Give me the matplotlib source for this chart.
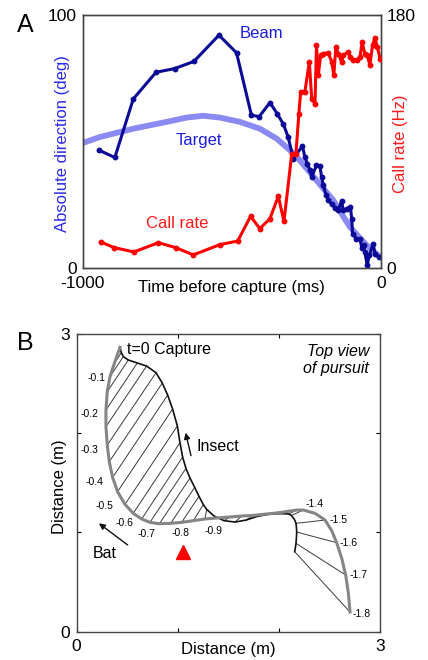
import numpy as np
import matplotlib
matplotlib.use("Agg")
import matplotlib.pyplot as plt

plt.rcParams['font.family'] = ['Liberation Sans', 'DejaVu Sans']
plt.rcParams['axes.unicode_minus'] = False

# ---- panel A data ----
beam_t = [-945, -892, -830, -754, -691, -627, -543, -484, -434, -408, -372, -348,
          -327, -311, -294, -263, -255, -247, -238, -232, -216, -204, -199, -193,
          -184, -177, -165, -154, -143, -132, -126, -115, -102, -98, -95, -82, -70,
          -64, -58, -54, -46, -39, -26, -20, -6]
beam_deg = [46.6, 43.7, 66.9, 77.4, 78.9, 81.7, 92.1, 85.1, 60.4, 59.9, 65.4, 61.1,
            56.9, 51.8, 43.3, 48.2, 43.9, 41.3, 38.9, 36.0, 40.6, 40.2, 36.0, 32.7,
            28.8, 26.8, 25.2, 23.9, 22.8, 26.5, 22.8, 23.5, 24.1, 19.5, 13.6, 11.6, 11.6,
            7.7, 9.0, 6.3, 1.1, 5.0, 9.6, 5.7, 4.4]

target_t = [-998, -942, -830, -718, -651, -596, -540, -473, -406, -350, -305, -272,
            -216, -160, -104, -48, -3]
target_deg = [49.5, 51.8, 55.1, 57.8, 59.5, 60.2, 59.5, 57.8, 55.1, 51.2, 46.6, 42.6,
              34.7, 26.8, 16.2, 9.0, 4.4]

call_t = [-939, -894, -828, -746, -688, -629, -540, -480, -437, -406, -372, -344,
          -325, -299, -285, -275, -269, -255, -240, -232, -221, -216, -210, -202,
          -193, -177, -165, -158, -151, -143, -132, -126, -109, -104, -93, -79, -70,
          -63, -54, -46, -37, -28, -20, -12, -3]
call_hz = [18.5, 14.5, 11.4, 18.0, 14.5, 9.3, 16.6, 19.2, 36.8, 28.0, 35.1, 51.1,
           33.2, 81.0, 81.0, 109.9, 125.4, 125.4, 146.8, 120.6, 117.1, 158.6, 137.3, 151.5,
           152.7, 153.2, 146.8, 137.3, 157.4, 152.7, 146.8, 151.5, 153.9, 150.3, 148.4, 148.4, 150.3,
           161.0, 152.7, 151.5, 144.4, 158.6, 164.1, 157.4, 149.1]

# ---- panel B data (every 0.05 s, from capture back to -1.8 s) ----
times = [0, -0.05, -0.1, -0.15, -0.2, -0.25, -0.3, -0.35, -0.4, -0.45, -0.5, -0.55,
         -0.6, -0.65, -0.7, -0.75, -0.8, -0.85, -0.9, -0.95, -1.0, -1.05, -1.1, -1.15,
         -1.2, -1.25, -1.3, -1.35, -1.4, -1.45, -1.5, -1.55, -1.6, -1.65, -1.7, -1.75, -1.8]
bat_x = [0.429, 0.373, 0.330, 0.303, 0.290, 0.290, 0.303, 0.323, 0.356, 0.405, 0.478, 0.560,
         0.643, 0.725, 0.818, 0.930, 1.038, 1.154, 1.269, 1.385, 1.516, 1.632, 1.747, 1.846,
         1.945, 2.027, 2.110, 2.176, 2.242, 2.357, 2.456, 2.522, 2.571, 2.621, 2.660, 2.687, 2.703]
bat_y = [2.866, 2.704, 2.570, 2.419, 2.234, 2.066, 1.881, 1.713, 1.555, 1.411, 1.283, 1.193,
         1.136, 1.102, 1.088, 1.092, 1.102, 1.119, 1.136, 1.146, 1.156, 1.166, 1.172, 1.183,
         1.193, 1.203, 1.216, 1.226, 1.226, 1.193, 1.125, 1.018, 0.897, 0.739, 0.571, 0.386, 0.198]
insect_x = [0.429, 0.442, 0.462, 0.511, 0.600, 0.692, 0.785, 0.847, 0.900, 0.949, 0.996, 1.022,
            1.048, 1.081, 1.121, 1.167, 1.210, 1.253, 1.286, 1.358, 1.457, 1.566, 1.675, 1.787,
            1.896, 1.985, 2.060, 2.097, 2.123, 2.153, 2.169, 2.173, 2.176, 2.173, 2.169, 2.163, 2.156]
insect_y = [2.866, 2.812, 2.772, 2.738, 2.708, 2.677, 2.610, 2.506, 2.385, 2.244, 2.073, 1.905,
            1.760, 1.646, 1.549, 1.455, 1.364, 1.280, 1.233, 1.166, 1.119, 1.105, 1.125, 1.162,
            1.183, 1.189, 1.189, 1.186, 1.172, 1.132, 1.092, 1.052, 1.004, 0.947, 0.890, 0.850, 0.806]
no_link = [0, -1.45, -1.55, -1.65, -1.75]

lab_txt = ['-0.1', '-0.2', '-0.3', '-0.4', '-0.5', '-0.6', '-0.7', '-0.8', '-0.9',
           '-1.4', '-1.5', '-1.6', '-1.7', '-1.8']
lab_x = [0.198, 0.132, 0.132, 0.181, 0.280, 0.478, 0.692, 1.032, 1.352,
         2.357, 2.588, 2.687, 2.786, 2.819]
lab_y = [2.553, 2.194, 1.831, 1.512, 1.267, 1.092, 0.984, 0.998, 1.018,
         1.287, 1.125, 0.890, 0.571, 0.178]

fig = plt.figure(figsize=(4.28, 6.60), dpi=100)

# ================= panel A =================
ax = fig.add_axes([0.193, 0.594, 0.697, 0.383])
ax.plot(target_t, target_deg, color='#8a8af2', lw=4.2, solid_capstyle='round', zorder=2)
ax.plot(beam_t, beam_deg, color='#0a0a96', lw=2.2, marker='o', ms=3.2, zorder=3)
ax.set_xlim(-1000, 0)
ax.set_ylim(0, 100)
ax.set_xticks([-1000, 0])
ax.set_yticks([0, 100])
ax.tick_params(length=0, labelsize=12.5, pad=4)
ax.tick_params(axis='x', pad=5.5)
ax.text(-399, 92.9, 'Beam', color='#1c1ce0', fontsize=12, ha='center', va='center')
ax.text(-610, 50.5, 'Target', color='#1c1ce0', fontsize=12, ha='center', va='center')
ax.text(-684, 17.7, 'Call rate', color='#ff1a1a', fontsize=12, ha='center', va='center')
ax.text(0.5, -0.076, 'Time before capture (ms)', transform=ax.transAxes,
        ha='center', va='center', fontsize=12)
ax.text(-0.066, 0.493, 'Absolute direction (deg)', transform=ax.transAxes, rotation=90,
        ha='center', va='center', fontsize=12, color='#2a2ae6')

ax2 = ax.twinx()
ax2.plot(call_t, call_hz, color='#ff0000', lw=2.2, marker='o', ms=3.2, zorder=4)
ax2.set_ylim(0, 180)
ax2.set_yticks([0, 180])
ax2.tick_params(length=0, labelsize=12.5, pad=4)
ax2.text(1.066, 0.49, 'Call rate (Hz)', transform=ax.transAxes, rotation=90,
         ha='center', va='center', fontsize=12, color='#ff1a1a')
for a in (ax, ax2):
    for s in a.spines.values():
        s.set_color('#444444')
        s.set_linewidth(1.0)

fig.text(25 / 428, 1 - 25 / 660, 'A', fontsize=18, ha='center', va='center')

# ================= panel B =================
bx = fig.add_axes([0.179, 0.0429, 0.709, 0.451])
for t, bxv, byv, ixv, iyv in zip(times, bat_x, bat_y, insect_x, insect_y):
    if t in no_link:
        continue
    bx.plot([bxv, ixv], [byv, iyv], color='#3a3a3a', lw=0.7, zorder=2)
bx.plot(insect_x, insect_y, color='#111111', lw=1.2, zorder=3)
bx.plot(bat_x, bat_y, color='#858585', lw=2.2, zorder=4, solid_joinstyle='round')
for s, x, y in zip(lab_txt, lab_x, lab_y):
    bx.text(x, y, s, fontsize=7.5, ha='center', va='center')

bx.plot([1.048], [0.806], marker='^', color='#ff0000', ms=10, zorder=5)
bx.text(0.501, 2.845, 't=0 Capture', fontsize=11.5, ha='left', va='center')
bx.text(2.894, 2.74, 'Top view\nof pursuit', fontsize=11.5, ha='right', va='center',
        style='italic', linespacing=1.15)
bx.text(1.187, 1.865, 'Insect', fontsize=11.5, ha='left', va='center')
bx.text(0.280, 0.789, 'Bat', fontsize=11.5, ha='center', va='center')
bx.annotate('', xy=(1.071, 2.033), xytext=(1.137, 1.747),
            arrowprops=dict(arrowstyle='-|>', color='#111111', lw=1.0, mutation_scale=9))
bx.annotate('', xy=(0.198, 1.109), xytext=(0.527, 0.857),
            arrowprops=dict(arrowstyle='-|>', color='#111111', lw=1.0, mutation_scale=9))

bx.set_xlim(0, 3)
bx.set_ylim(0, 3)
bx.set_xticks([0, 1, 2, 3])
bx.set_xticklabels(['0', '', '', '3'])
bx.set_yticks([0, 1, 2, 3])
bx.set_yticklabels(['0', '', '', '3'])
bx.tick_params(direction='in', length=3, width=0.8, top=True, right=True,
               labelsize=12.5, pad=5)
bx.text(0.5, -0.0615, 'Distance (m)', transform=bx.transAxes, ha='center', va='center',
        fontsize=12)
bx.text(-0.055, 0.486, 'Distance (m)', transform=bx.transAxes, rotation=90,
        ha='center', va='center', fontsize=12)
for s in bx.spines.values():
    s.set_color('#444444')
    s.set_linewidth(1.0)

fig.text(25 / 428, 1 - 343 / 660, 'B', fontsize=18, ha='center', va='center')

fig.savefig('out.png', dpi=100)
